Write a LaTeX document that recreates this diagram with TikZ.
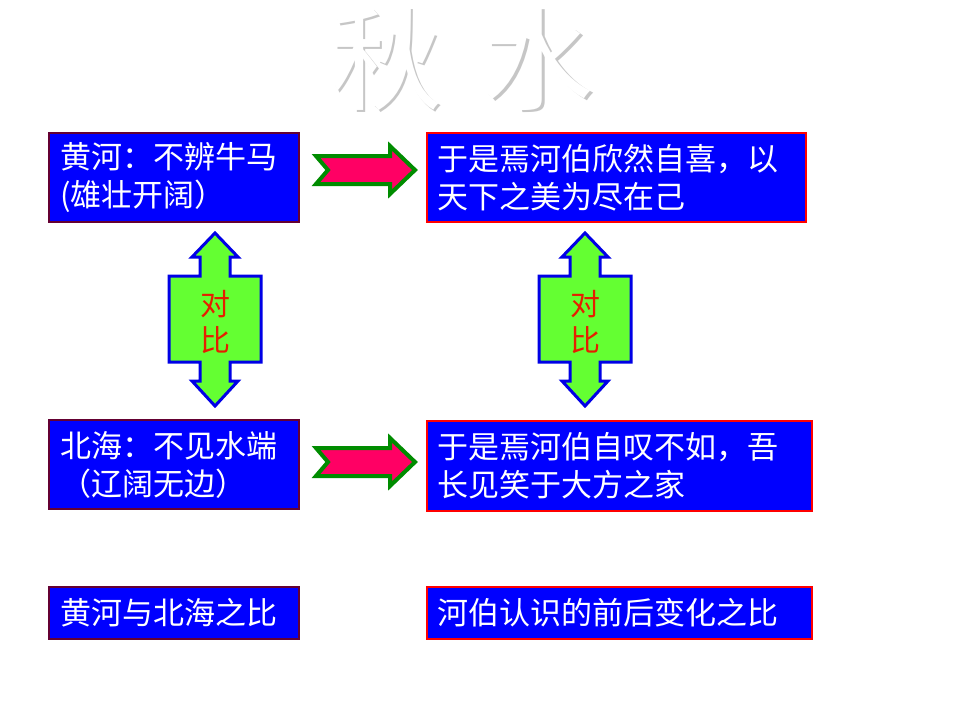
\documentclass[tikz,border=0pt]{standalone}
\usepackage{fontspec}
\newfontfamily\cjk{Noto Sans CJK SC}
\definecolor{lb}{RGB}{100,0,50}
\definecolor{boxblue}{RGB}{0,0,255}
\definecolor{agreen}{RGB}{0,140,0}
\definecolor{apink}{RGB}{255,0,100}
\definecolor{vblue}{RGB}{0,0,230}
\definecolor{vgreen}{RGB}{100,255,50}
\definecolor{vred}{RGB}{230,30,0}
\begin{document}
\begin{tikzpicture}[x=1pt,y=-1pt,
  box/.style={draw=#1,line width=2.5pt,fill=boxblue},
  txt/.style={anchor=west,text=white,font=\cjk\fontsize{31}{38}\selectfont,align=left,inner sep=0pt},
  rarr/.style={draw=agreen,line width=4pt,fill=apink,line join=miter},
  varr/.style={draw=vblue,line width=3pt,fill=vgreen},
  vlab/.style={text=vred,font=\cjk\fontsize{30}{36}\selectfont,align=center}]
\useasboundingbox (0,0) rectangle (960,720);
\fill[white] (0,0) rectangle (960,720);
% title (white with grey shadow)
\node (title) [text=white,font=\cjk\fontsize{112}{112}\selectfont,inner sep=0pt] at (462,60)
  {\rlap{\color{gray!45}\kern2.5pt\raisebox{-2.5pt}{秋\hspace{40pt}水}}秋\hspace{40pt}水};
% boxes
\path[box=lb] (49,133) rectangle (299,222); \node (b1) [txt] at (60,177.5) {黄河：不辨牛马\\(雄壮开阔）};
\path[box=red] (427,133) rectangle (806,222); \node (b2) [txt] at (437,177.5) {于是焉河伯欣然自喜，以\\天下之美为尽在己};
\path[box=lb] (49,420) rectangle (299,509); \node (b3) [txt] at (60,464.5) {北海：不见水端\\（辽阔无边）};
\path[box=red] (427,421) rectangle (812,511); \node (b4) [txt] at (437,466) {于是焉河伯自叹不如，吾\\长见笑于大方之家};
\path[box=lb] (49,587) rectangle (299,639); \node (b5) [txt] at (60,613) {黄河与北海之比};
\path[box=red] (427,587) rectangle (812,639); \node (b6) [txt] at (437,613) {河伯认识的前后变化之比};
% right arrows
\foreach \y in {170,462}{
 \draw[rarr] (316,\y-14) -- (390,\y-14) -- (390,\y-24) -- (415,\y) -- (390,\y+24) -- (390,\y+14) -- (316,\y+14) -- (328,\y) -- cycle;
}
% vertical double arrows
\foreach \cx/\n in {215/l,585/r}{
 \draw[varr] (\cx,233) -- (\cx+23,257) -- (\cx+15,257) -- (\cx+15,276) -- (\cx+46,276) -- (\cx+46,362) -- (\cx+15,362) -- (\cx+15,381) -- (\cx+23,381) -- (\cx,406) -- (\cx-23,381) -- (\cx-15,381) -- (\cx-15,362) -- (\cx-46,362) -- (\cx-46,276) -- (\cx-15,276) -- (\cx-15,257) -- (\cx-23,257) -- cycle;
 \node (v\n) [vlab] at (\cx,322) {对\\比};
}
\end{tikzpicture}
\end{document}
